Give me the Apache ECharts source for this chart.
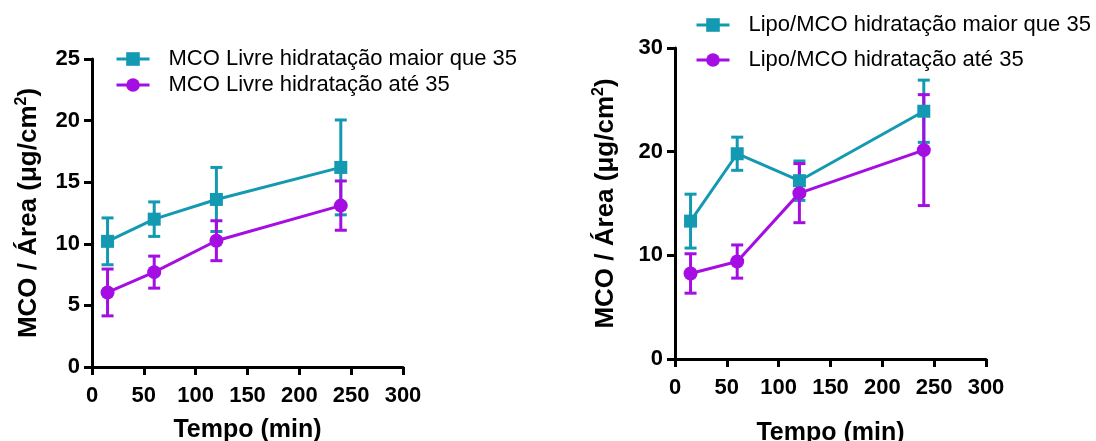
<!DOCTYPE html>
<html>
<head>
<meta charset="utf-8">
<script src="https://cdn.jsdelivr.net/npm/echarts@6/dist/echarts.min.js"></script>
<style>html,body{margin:0;padding:0;background:#fff;}#c{width:1096px;height:441px;}</style>
</head>
<body>
<div id="c"></div>
<script>
const times = [15, 60, 120, 240];

const leftNames = ['MCO Livre hidratação maior que 35', 'MCO Livre hidratação até 35'];
const leftHighMean = [10.2, 12.0, 13.6, 16.2];
const leftHighErr = [1.9, 1.4, 2.6, 3.85];
const leftLowMean = [6.05, 7.7, 10.25, 13.1];
const leftLowErr = [1.9, 1.3, 1.62, 2.0];

const rightNames = ['Lipo/MCO hidratação maior que 35', 'Lipo/MCO hidratação até 35'];
const rightHighMean = [13.3, 19.8, 17.2, 23.9];
const rightHighErr = [2.6, 1.6, 1.9, 3.0];
const rightLowMean = [8.25, 9.4, 16.0, 20.15];
const rightLowErr = [1.9, 1.6, 2.85, 5.35];

const CYAN = '#1399b1';
const PURPLE = '#a50ee3';
const FONT = '"Liberation Sans", Arial, sans-serif';

function pts(means) { return times.map((t, i) => [t, means[i]]); }
function errs(means, e) { return times.map((t, i) => [t, means[i] - e[i], means[i] + e[i]]); }

function errSeries(name, idx, color, means, e) {
  return {
    type: 'custom', name: name, xAxisIndex: idx, yAxisIndex: idx, z: 3,
    data: errs(means, e),
    encode: { x: 0, y: [1, 2] },
    silent: true,
    renderItem: function (params, api) {
      const x = api.value(0);
      const lo = api.coord([x, api.value(1)]);
      const hi = api.coord([x, api.value(2)]);
      const hw = 6;
      const st = { stroke: color, lineWidth: 3 };
      return {
        type: 'group', children: [
          { type: 'line', shape: { x1: lo[0], y1: lo[1], x2: hi[0], y2: hi[1] }, style: st },
          { type: 'line', shape: { x1: lo[0] - hw, y1: lo[1], x2: lo[0] + hw, y2: lo[1] }, style: st },
          { type: 'line', shape: { x1: hi[0] - hw, y1: hi[1], x2: hi[0] + hw, y2: hi[1] }, style: st }
        ]
      };
    }
  };
}

function lineSeries(name, idx, color, symbol, size, means) {
  return {
    type: 'line', name: name, xAxisIndex: idx, yAxisIndex: idx, z: 4,
    data: pts(means), symbol: symbol, symbolSize: size, showSymbol: true,
    lineStyle: { color: color, width: 3 }, itemStyle: { color: color },
    clip: false, animation: false
  };
}

function xAx(idx) {
  return {
    type: 'value', gridIndex: idx, min: 0, max: 300, interval: 50,
    name: 'Tempo (min)', nameLocation: 'middle', nameGap: idx === 0 ? 51 : 62,
    nameTextStyle: { fontFamily: FONT, fontSize: 25, fontWeight: 'bold', color: '#000' },
    axisLine: { show: true, onZero: false, lineStyle: { color: '#000', width: 3 } },
    axisTick: { show: true, length: 8, lineStyle: { color: '#000', width: 3 } },
    axisLabel: { margin: 18, fontFamily: FONT, fontSize: 22, fontWeight: 'bold', color: '#000', hideOverlap: false },
    splitLine: { show: false }
  };
}

function yAx(idx, max, interval, gap) {
  return {
    type: 'value', gridIndex: idx, min: 0, max: max, interval: interval,
    name: '{a|MCO / Área (μg/cm}{s|2}{a|)}', nameLocation: 'middle', nameGap: gap,
    nameTextStyle: {
      fontFamily: FONT, fontSize: 26, fontWeight: 'bold', color: '#000',
      rich: {
        a: { fontFamily: FONT, fontSize: 26, fontWeight: 'bold', color: '#000', lineHeight: 30 },
        s: { fontFamily: FONT, fontSize: 16, fontWeight: 'bold', color: '#000', verticalAlign: 'top', lineHeight: 30, padding: [0, 0, 14, 0] }
      }
    },
    axisLine: { show: true, onZero: false, lineStyle: { color: '#000', width: 3 } },
    axisTick: { show: true, length: 8, lineStyle: { color: '#000', width: 3 } },
    axisLabel: { margin: 12, fontFamily: FONT, fontSize: 22, fontWeight: 'bold', color: '#000' },
    splitLine: { show: false }
  };
}

const legendCommon = {
  orient: 'vertical', itemWidth: 33, itemHeight: 17,
  lineStyle: { width: 3 },
  textStyle: { fontFamily: FONT, fontSize: 22, color: '#000', padding: [0, 0, 0, 14] }
};

const chart = echarts.init(document.getElementById('c'), null, { renderer: 'canvas' });
chart.setOption({
  animation: false,
  backgroundColor: '#fff',
  grid: [
    { left: 92, top: 59, width: 311, height: 308, containLabel: false, outerBoundsMode: 'none' },
    { left: 675, top: 48, width: 311, height: 311, containLabel: false, outerBoundsMode: 'none' }
  ],
  xAxis: [xAx(0), xAx(1)],
  yAxis: [yAx(0, 25, 5, 48), yAx(1, 30, 10, 54)],
  legend: [
    Object.assign({ data: leftNames, left: 110, top: 43, itemGap: 4 }, legendCommon),
    Object.assign({ data: rightNames, left: 690, top: 9, itemGap: 13 }, legendCommon)
  ],
  series: [
    errSeries('eLH', 0, CYAN, leftHighMean, leftHighErr),
    errSeries('eLL', 0, PURPLE, leftLowMean, leftLowErr),
    lineSeries(leftNames[0], 0, CYAN, 'rect', 13, leftHighMean),
    lineSeries(leftNames[1], 0, PURPLE, 'circle', 14, leftLowMean),
    errSeries('eRH', 1, CYAN, rightHighMean, rightHighErr),
    errSeries('eRL', 1, PURPLE, rightLowMean, rightLowErr),
    lineSeries(rightNames[0], 1, CYAN, 'rect', 13, rightHighMean),
    lineSeries(rightNames[1], 1, PURPLE, 'circle', 14, rightLowMean)
  ]
});
</script>
</body>
</html>
